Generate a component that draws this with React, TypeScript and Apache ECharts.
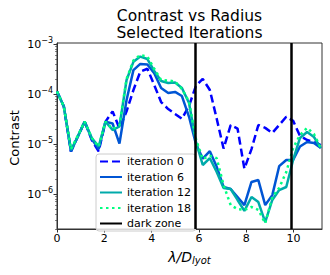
import React, { useEffect, useRef } from "react";
import * as echarts from "echarts";

// radial positions (lambda / D_lyot)
const radius = [0, 0.29, 0.59, 0.88, 1.17, 1.47, 1.76, 2.05, 2.35, 2.64, 2.94, 3.23, 3.52, 3.82, 4.11, 4.4, 4.7, 4.99, 5.28, 5.58, 5.87, 6.16, 6.46, 6.75, 7.04, 7.34, 7.63, 7.92, 8.22, 8.51, 8.8, 9.1, 9.39, 9.69, 9.98, 10.27, 10.57, 10.86, 11.15];

const iter0 = [1.12e-4, 5.6e-5, 7.1e-6, 1.41e-5, 2.8e-5, 1.2e-5, 7.1e-6, 2.8e-5, 4.5e-5, 2.04e-5, 4.5e-5, 1.2e-4, 2.8e-4, 3.2e-4, 1.51e-4, 6.9e-5, 5.0e-5, 4.0e-5, 3.2e-5, 5.8e-5, 1.45e-4, 2.0e-4, 1.2e-4, 3.2e-5, 8.1e-6, 2.4e-5, 2.04e-5, 3.2e-6, 7.9e-6, 2.4e-5, 2.1e-5, 1.66e-5, 2.4e-5, 3.5e-5, 2.9e-5, 1.45e-5, 1.2e-5, 1.1e-5, 9.5e-6];
const iter6 = [1.12e-4, 5.6e-5, 7.1e-6, 1.41e-5, 2.8e-5, 1.26e-5, 7.9e-6, 2.8e-5, 2.57e-5, 1.02e-5, 7.6e-5, 3.0e-4, 4.0e-4, 3.9e-4, 2.6e-4, 1.32e-4, 1.05e-4, 1.1e-4, 9.1e-5, 3.5e-5, 1.0e-5, 5.1e-6, 7.2e-6, 3.5e-6, 1.38e-6, 1.26e-6, 8.7e-7, 6.0e-7, 1.74e-6, 1.9e-6, 6.0e-7, 9.5e-7, 3.6e-6, 4.8e-6, 4.8e-6, 8.9e-6, 1.1e-5, 1.05e-5, 8.3e-6];
const iter12 = [1.12e-4, 5.6e-5, 7.6e-6, 1.41e-5, 2.8e-5, 1.32e-5, 8.9e-6, 2.8e-5, 1.9e-5, 2.24e-5, 1.9e-4, 4.4e-4, 5.6e-4, 5.0e-4, 2.9e-4, 1.82e-4, 1.66e-4, 1.7e-4, 1.32e-4, 6.6e-5, 1.12e-5, 3.8e-6, 5.2e-6, 2.75e-6, 1.32e-6, 1.26e-6, 7.6e-7, 4.6e-7, 8.7e-7, 6.9e-7, 2.75e-7, 7.6e-7, 1.2e-6, 1.38e-6, 4.8e-6, 1.32e-5, 1.74e-5, 1.38e-5, 8.3e-6];
const iter18 = [1.12e-4, 5.6e-5, 7.9e-6, 1.48e-5, 2.8e-5, 1.32e-5, 8.9e-6, 2.8e-5, 2.0e-5, 2.4e-5, 2.0e-4, 4.7e-4, 6.0e-4, 5.6e-4, 3.2e-4, 1.9e-4, 1.86e-4, 1.78e-4, 1.26e-4, 7.1e-5, 1.26e-5, 5.0e-6, 5.8e-6, 5.2e-6, 1.51e-6, 6.0e-7, 5.0e-7, 4.8e-7, 5.5e-7, 4.8e-7, 2.6e-7, 8.7e-7, 1.32e-6, 2.75e-6, 8.3e-6, 1.51e-5, 2.1e-5, 1.58e-5, 8.3e-6];

const darkZone = [5.85, 9.9];
const xTicks = [0, 2, 4, 6, 8, 10];
const yDecades = [-6, -5, -4, -3];

const FONT = "DejaVu Sans";

export default function App() {
  const ref = useRef<HTMLDivElement>(null);
  useEffect(() => {
    document.body.style.margin = "0";
    const chart = echarts.init(ref.current!, null, { renderer: "svg" });
    const toXY = (vals: number[]) => vals.map((v, i) => [radius[i], Math.log10(v)]);
    const minor: number[] = [];
    for (let n = -7; n <= -3; n++) {
      for (let k = 2; k <= 9; k++) {
        const v = Math.log10(k) + n;
        if (v > -6.7 && v < -2.98) minor.push(v);
      }
    }
    const lineBase = { type: "line", showSymbol: false, symbol: "none", animation: false, clip: true };
    chart.setOption({
      animation: false,
      title: {
        text: "Contrast vs Radius\nSelected Iterations",
        left: 189.5,
        top: 7,
        padding: 0,
        textAlign: "center",
        textStyle: { fontFamily: FONT, fontSize: 15.5, fontWeight: "normal", color: "#000", lineHeight: 17 },
      },
      grid: { left: 57, right: 8, top: 43, bottom: 46, show: true, borderColor: "#333", borderWidth: 1, backgroundColor: "transparent" },
      xAxis: {
        type: "value",
        min: 0,
        max: 11.2,
        interval: 2,
        axisLine: { show: true, onZero: false, lineStyle: { color: "#333", width: 1 } },
        axisTick: { show: true, length: 3.5, lineStyle: { color: "#333" }, customValues: xTicks },
        axisLabel: { fontFamily: FONT, fontSize: 11, color: "#000", margin: 4, customValues: xTicks },
        splitLine: { show: false },
      },
      yAxis: [
        {
          type: "value",
          min: -6.7,
          max: -2.98,
          axisLine: { show: true, lineStyle: { color: "#333", width: 1 } },
          axisTick: { show: true, length: 3.5, lineStyle: { color: "#333" }, customValues: yDecades },
          axisLabel: {
            customValues: yDecades,
            margin: 4,
            fontFamily: FONT,
            fontSize: 11,
            color: "#000",
            formatter: (v: number) => `10{s|−${Math.abs(Math.round(v))}}`,
            rich: { s: { fontFamily: FONT, fontSize: 8, color: "#000", verticalAlign: "top", padding: [0, 0, 8, 0] } },
          },
          splitLine: { show: false },
        },
        {
          type: "value",
          min: -6.7,
          max: -2.98,
          position: "left",
          axisLine: { show: false },
          axisTick: { show: true, length: 2, lineStyle: { color: "#333", width: 0.6 }, customValues: minor },
          axisLabel: { show: false },
          splitLine: { show: false },
        },
      ],
      legend: {
        orient: "vertical",
        left: 96,
        top: 154,
        padding: [2, 5, 2, 3],
        itemWidth: 22,
        itemHeight: 10,
        itemGap: 4.5,
        backgroundColor: "rgba(255,255,255,0.8)",
        borderColor: "#ccc",
        borderWidth: 1,
        borderRadius: 3,
        itemStyle: { opacity: 0 },
        textStyle: { fontFamily: FONT, fontSize: 11, color: "#000" },
        data: ["iteration 0", "iteration 6", "iteration 12", "iteration 18", "dark zone"],
      },
      graphic: [
        {
          type: "text",
          x: 14,
          y: 138,
          rotation: Math.PI / 2,
          style: { text: "Contrast", fontFamily: FONT, fontSize: 13, fill: "#000", textAlign: "center", textVerticalAlign: "middle" },
        },
        {
          type: "text",
          x: 189.5,
          y: 257,
          style: {
            text: "{i|λ/D}{b|lyot}",
            textAlign: "center",
            textVerticalAlign: "middle",
            rich: {
              i: { fontFamily: FONT, fontStyle: "italic", fontSize: 14, fill: "#000" },
              b: { fontFamily: FONT, fontStyle: "italic", fontSize: 10, fill: "#000", padding: [7, 0, 0, 0] },
            },
          },
        },
      ],
      series: [
        { ...lineBase, name: "iteration 0", data: toXY(iter0), color: "#0000ff", lineStyle: { color: "#0000ff", width: 2.5, type: [8, 4] } },
        { ...lineBase, name: "iteration 6", data: toXY(iter6), color: "#0055d4", lineStyle: { color: "#0055d4", width: 2.5 } },
        { ...lineBase, name: "iteration 12", data: toXY(iter12), color: "#00aaaa", lineStyle: { color: "#00aaaa", width: 2.5 } },
        { ...lineBase, name: "iteration 18", data: toXY(iter18), color: "#00ff80", lineStyle: { color: "#00ff80", width: 2.5, type: [2.5, 3.5] } },
        {
          ...lineBase,
          name: "dark zone",
          data: [],
          color: "#000",
          lineStyle: { color: "#000", width: 2.5 },
          markLine: {
            silent: true,
            symbol: "none",
            animation: false,
            label: { show: false },
            lineStyle: { color: "#000", width: 2.5, type: "solid" },
            data: darkZone.map((x) => ({ xAxis: x })),
          },
        },
      ],
    });
    return () => chart.dispose();
  }, []);
  return <div ref={ref} style={{ width: 330, height: 275 }} />;
}
